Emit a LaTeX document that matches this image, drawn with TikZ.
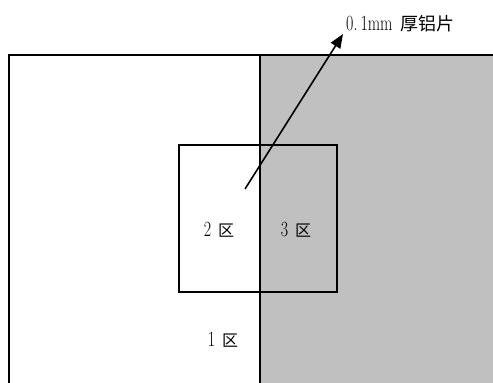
\documentclass[tikz,border=0pt]{standalone}
\usepackage{graphicx}
\usepackage{fontspec}
\newfontfamily\cjk{Noto Sans CJK SC}
\newcommand{\dg}[1]{\scalebox{1}[1.35]{\fontsize{16}{18}\selectfont #1}}
\newcommand{\cj}[1]{{\fontsize{16}{18}\selectfont\cjk #1}}
\usetikzlibrary{arrows.meta}
\begin{document}
\begin{tikzpicture}[x=1pt,y=-1pt,
  lbl/.style={inner sep=0pt, anchor=center},
  thin box/.style={draw=black, line width=1.1pt}]
\useasboundingbox (0,0) rectangle (493,383);
\fill[fill={rgb,255:red,192;green,192;blue,192}] (260,55) rectangle (493,383);
\coordinate (tl) at (9,55);
\coordinate (tr) at (493,55);
\coordinate (bl) at (9,383);
\coordinate (mt) at (260,55);
\coordinate (mb) at (260,383);
\draw[line width=1.6pt] (bl) -- (tl) -- (tr);
\draw[line width=1.4pt] (mt) -- (mb);
\draw[thin box] (179,145) rectangle (337,292);
\node[lbl] (z2) at (219,230) {\dg{2}\hspace{7pt}\cj{区}};
\node[lbl] (z3) at (296,230) {\dg{3}\hspace{7pt}\cj{区}};
\node[lbl] (z1) at (223,339.5) {\dg{1}\hspace{7pt}\cj{区}};
\node[lbl, anchor=west] (al) at (346,23.5) {\dg{0.\hspace{3pt}1mm}\hspace{8pt}{\fontsize{18}{20}\selectfont\cjk 厚铝片}};
\coordinate (a0) at (245,189);
\coordinate (a1) at (343,34);
\draw[line width=1.6pt, -{Triangle[length=14pt,width=11pt]}] (a0) -- (a1);
\end{tikzpicture}
\end{document}
